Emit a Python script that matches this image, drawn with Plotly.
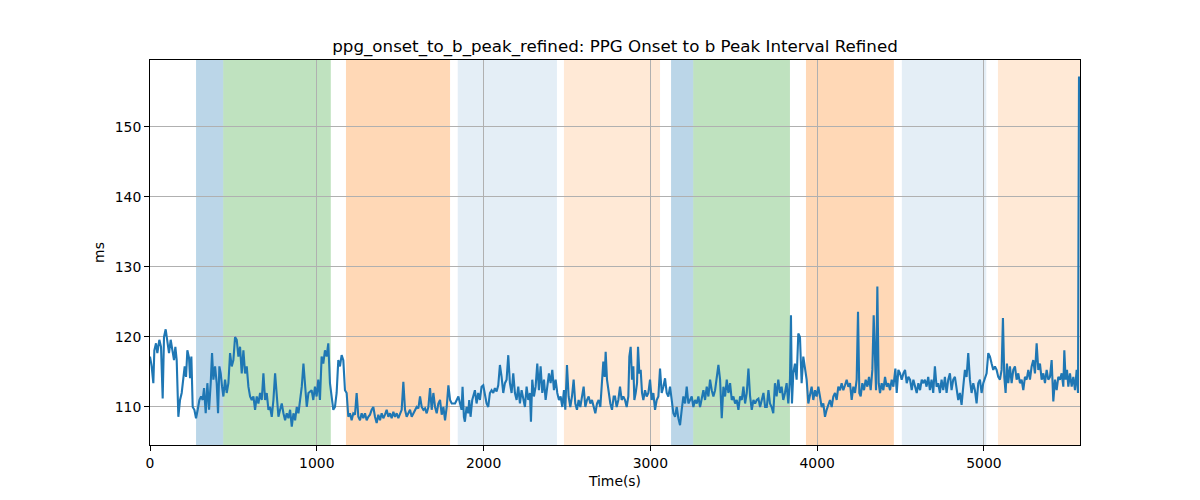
import plotly.graph_objects as go

time_s = [
    0, 10, 20, 26, 36, 44, 56, 66, 76, 84, 94, 104, 114, 124, 132, 144, 152, 160, 170, 180,
    190, 200, 208, 216, 224, 234, 240, 248, 256, 266, 276, 286, 296, 306, 316, 324, 334, 344, 354, 364,
    372, 380, 390, 400, 408, 416, 424, 432, 440, 450, 460, 470, 480, 490, 500, 510, 520, 530, 540, 550,
    560, 570, 580, 590, 600, 610, 620, 630, 640, 650, 660, 670, 680, 690, 700, 710, 720, 730, 740, 750,
    760, 770, 780, 790, 800, 810, 820, 830, 840, 850, 860, 870, 880, 890, 900, 910, 920, 930, 940, 950,
    969, 979, 989, 999, 1009, 1019, 1029, 1039, 1049, 1059, 1069, 1079, 1089, 1099, 1109, 1119, 1129, 1139, 1149, 1159,
    1169, 1179, 1189, 1199, 1209, 1219, 1229, 1239, 1249, 1259, 1269, 1279, 1289, 1299, 1309, 1319, 1329, 1339, 1349, 1359,
    1369, 1379, 1389, 1399, 1409, 1419, 1429, 1439, 1449, 1459, 1469, 1479, 1489, 1499, 1509, 1519, 1529, 1539, 1549, 1559,
    1569, 1579, 1589, 1599, 1609, 1619, 1629, 1639, 1649, 1659, 1669, 1679, 1689, 1699, 1709, 1719, 1729, 1739, 1749, 1759,
    1769, 1779, 1789, 1799, 1809, 1819, 1829, 1839, 1849,
    1868, 1874, 1882, 1888, 1898, 1908, 1914, 1922, 1932, 1938, 1948, 1958, 1968, 1978, 1988, 1998, 2008, 2018, 2028, 2038,
    2048, 2058, 2068, 2078, 2088, 2098, 2108, 2118, 2128, 2138, 2148, 2158, 2168, 2178, 2188, 2198, 2208, 2218, 2228, 2238,
    2248, 2258, 2268, 2278, 2284, 2292, 2302, 2312, 2322, 2332, 2342, 2352, 2362, 2372, 2382, 2392, 2402, 2412, 2422, 2432,
    2442, 2452, 2462, 2472, 2482, 2490, 2500, 2510, 2520, 2530, 2540, 2550, 2560, 2570, 2580, 2590, 2600, 2610, 2620, 2630,
    2640, 2650, 2660, 2670, 2680, 2690, 2700, 2710, 2718, 2726, 2732, 2740, 2750, 2760, 2770, 2780,
    2788, 2798, 2808, 2818, 2828, 2838, 2848, 2858, 2868, 2874, 2882, 2890, 2898, 2904, 2912, 2920, 2926, 2934, 2942, 2950,
    2958, 2968, 2978, 2988, 2998, 3008, 3018, 3028, 3038, 3048, 3058, 3068, 3078, 3088, 3098, 3108, 3118, 3128, 3138, 3148,
    3158, 3168, 3178, 3188, 3198, 3208, 3218, 3228, 3238, 3248, 3258, 3268, 3278, 3288, 3298, 3308, 3318, 3328, 3338, 3348,
    3358, 3368, 3378, 3388, 3398, 3408, 3418, 3428, 3438, 3448, 3458, 3468, 3478, 3488, 3498, 3508, 3518, 3528, 3538, 3548,
    3558, 3568, 3578, 3588, 3598, 3608, 3618, 3628, 3638, 3648, 3658, 3668, 3678, 3688, 3698, 3708,
    3717, 3727, 3737, 3747, 3757, 3767, 3777, 3787, 3797, 3807, 3817, 3827, 3837, 3843, 3849, 3857, 3867, 3877, 3887, 3897,
    3907, 3917, 3927, 3937, 3947, 3957, 3967, 3977, 3987, 3997, 4007, 4017, 4027, 4037, 4047, 4057, 4067, 4077, 4087, 4097,
    4107, 4117, 4127, 4137, 4147, 4157, 4167, 4177, 4187, 4197, 4207, 4217, 4227, 4237, 4245, 4253, 4261, 4271, 4281, 4291,
    4301, 4311, 4321, 4331, 4339, 4347, 4353, 4361, 4369, 4377, 4387, 4397, 4407, 4417, 4427, 4437, 4447, 4457, 4469, 4477,
    4487, 4497, 4507, 4517, 4527, 4537, 4547, 4557, 4567, 4577, 4587, 4597, 4607, 4617, 4627, 4637,
    4646, 4656, 4666, 4676, 4686, 4696, 4706, 4716, 4726, 4736, 4746, 4756, 4766, 4776, 4786, 4796, 4806, 4816, 4826, 4836,
    4846, 4856, 4866, 4876, 4886, 4896, 4906, 4916, 4926, 4936, 4946, 4956, 4966, 4976, 4986, 4996, 5006, 5016, 5026, 5036,
    5046, 5056, 5066, 5076, 5086, 5096, 5106, 5114, 5122, 5130, 5138, 5146, 5156, 5166, 5176, 5186, 5196, 5206, 5216, 5226,
    5236, 5246, 5256, 5266, 5276, 5286, 5296, 5306, 5316, 5326, 5336, 5346, 5356, 5366, 5376, 5386, 5396, 5406, 5416, 5426,
    5436, 5446, 5456, 5466, 5476, 5482, 5490, 5498, 5506, 5516, 5526, 5536, 5546, 5556, 5564, 5570,
]

interval_ms = [
    117.2, 115.8, 113.4, 118.1, 119.1, 117.7, 119.6, 118.6, 111.2, 120.0, 121.1, 119.1, 117.7, 119.6, 118.1, 116.7, 118.6, 116.7, 108.6, 111.0,
    112.0, 114.8, 115.8, 114.3, 118.1, 117.0, 114.1, 117.2, 110.0, 109.6, 108.4, 109.6, 111.0, 111.5, 111.0, 112.7, 109.1, 113.4, 109.6, 113.4,
    117.7, 113.9, 115.8, 113.4, 109.1, 115.8, 114.8, 112.9, 111.5, 113.9, 112.0, 113.4, 117.7, 115.8, 116.7, 120.0, 119.6, 117.2, 118.6, 114.8,
    118.1, 114.8, 115.8, 112.9, 111.5, 111.0, 111.5, 109.6, 111.5, 110.5, 112.0, 111.0, 114.8, 111.0, 112.0, 109.6, 110.0, 108.6, 111.0, 114.8,
    111.0, 108.6, 109.6, 110.5, 109.1, 108.1, 109.1, 108.4, 109.6, 107.2, 109.1, 108.1, 110.0, 109.1, 111.0, 112.9, 116.2, 113.4, 110.0, 112.0,
    112.4, 111.0, 112.9, 111.5, 113.9, 111.0, 117.2, 116.2, 118.1, 117.2, 119.1, 113.4, 111.5, 109.6, 110.0, 112.0, 116.7, 115.8, 117.4, 116.7,
    112.4, 112.0, 108.6, 109.1, 108.1, 109.1, 108.9, 112.0, 108.6, 108.1, 109.1, 108.4, 109.1, 108.1, 108.6, 108.9, 109.6, 110.0, 108.6, 107.7,
    108.9, 108.1, 109.1, 108.4, 108.9, 109.6, 108.6, 109.1, 108.4, 109.3, 108.6, 109.1, 108.4, 108.9, 109.6, 113.6, 109.6, 108.6, 109.1, 109.6,
    108.6, 109.1, 109.6, 110.0, 109.8, 111.5, 110.0, 109.6, 109.8, 109.1, 110.0, 112.7, 109.6, 112.0, 110.0, 109.1, 110.5, 111.0, 108.9, 110.0,
    108.1, 110.0, 113.1, 111.0, 110.5, 110.5, 110.5, 111.0, 111.5,
    109.6, 112.9, 108.6, 107.9, 110.0, 109.1, 111.0, 108.6, 111.0, 111.5, 112.4, 110.5, 112.0, 111.0, 112.9, 113.1, 111.5, 110.5, 110.0, 112.0,
    112.4, 112.0, 112.7, 112.2, 113.1, 116.0, 114.3, 112.0, 113.4, 113.9, 117.4, 113.4, 112.0, 114.8, 112.0, 111.0, 112.9, 110.5, 112.4, 111.0,
    110.0, 112.9, 111.0, 112.0, 107.9, 113.9, 111.5, 112.9, 116.2, 112.4, 115.8, 112.0, 113.9, 111.0, 113.4, 114.8, 113.4, 115.3, 112.4, 113.9,
    112.0, 111.0, 111.5, 110.0, 112.4, 109.6, 116.0, 111.5, 110.0, 111.5, 113.9, 110.5, 109.6, 111.0, 110.0, 111.5, 112.9, 110.0, 111.0, 111.5,
    110.5, 111.0, 110.0, 109.1, 110.5, 111.0, 110.0, 112.9, 116.5, 114.3, 117.9, 113.9, 112.0, 110.5, 109.6, 111.5,
    111.5, 110.0, 111.0, 112.9, 111.0, 111.5, 111.0, 110.0, 111.5, 117.2, 118.6, 113.9, 115.8, 111.0, 112.0, 113.4, 118.6, 114.8, 115.3, 112.0,
    111.0, 112.4, 111.5, 112.0, 113.9, 111.0, 112.0, 109.6, 111.0, 111.5, 115.5, 112.0, 112.9, 114.1, 112.0, 111.5, 112.9, 111.0, 109.1, 108.6,
    110.0, 108.4, 107.4, 109.6, 111.5, 110.5, 112.9, 110.5, 111.0, 111.5, 110.0, 111.0, 110.5, 111.5, 110.0, 111.5, 112.4, 111.0, 112.9, 111.5,
    113.9, 112.4, 111.5, 112.4, 114.3, 116.0, 113.9, 108.4, 112.9, 111.5, 113.9, 112.0, 113.4, 111.0, 111.5, 110.5, 111.0, 109.6, 111.5, 111.0,
    112.9, 110.5, 112.0, 115.5, 111.5, 109.6, 111.0, 110.5, 111.0, 111.2, 110.0, 111.0, 112.0, 110.0, 110.0, 112.4,
    110.5, 110.0, 109.1, 113.4, 111.5, 113.9, 112.0, 112.9, 111.0, 112.0, 113.4, 110.5, 113.9, 123.1, 110.5, 114.8, 116.2, 113.9, 120.5, 120.0,
    113.4, 117.2, 115.3, 113.9, 110.5, 111.5, 112.9, 111.0, 112.4, 111.5, 112.9, 111.5, 110.0, 110.5, 108.6, 109.6, 110.5, 111.0, 110.0, 111.5,
    112.0, 111.0, 112.9, 112.4, 113.4, 112.4, 113.1, 113.9, 112.9, 113.4, 111.0, 112.9, 112.0, 113.9, 123.6, 112.0, 111.5, 113.4, 112.4, 113.9,
    112.9, 114.3, 112.4, 115.3, 123.1, 114.8, 112.4, 127.2, 113.4, 112.0, 113.4, 112.4, 114.3, 112.9, 113.4, 112.4, 113.9, 112.9, 115.5, 112.0,
    115.3, 114.8, 113.9, 114.8, 115.3, 113.4, 114.3, 113.9, 112.4, 113.9, 112.9, 112.0, 113.4, 112.4, 113.9, 113.4,
    113.9, 112.9, 114.3, 112.4, 113.9, 112.0, 115.8, 112.9, 113.4, 112.0, 113.9, 112.4, 114.3, 112.0, 113.9, 114.8, 112.4, 113.9, 114.3, 112.4,
    111.0, 112.0, 110.3, 112.9, 115.3, 114.3, 117.7, 113.9, 112.0, 113.4, 112.4, 110.5, 113.4, 113.9, 112.0, 113.4, 114.3, 114.8, 117.7, 117.2,
    116.2, 115.3, 115.8, 115.3, 114.3, 113.9, 115.3, 122.7, 114.3, 112.0, 116.2, 113.4, 115.8, 113.4, 115.3, 115.8, 113.9, 114.8, 113.4, 113.9,
    112.4, 114.3, 113.9, 115.3, 113.9, 115.8, 116.7, 114.8, 119.1, 115.3, 116.2, 113.9, 114.8, 113.4, 115.3, 113.9, 114.3, 116.7, 110.8, 113.9,
    112.4, 114.3, 113.9, 114.8, 112.9, 118.1, 113.9, 115.3, 112.9, 114.8, 112.9, 114.3, 112.4, 115.3, 112.0, 157.2,
]

# Shaded condition segments (start, end, color, opacity)
seg_start = [276, 439, 1175, 1845, 2482, 3124, 3257, 3933, 4508, 5084]
seg_end = [439, 1084, 1799, 2440, 3058, 3257, 3837, 4460, 5014, 5576]
seg_color = ["#1f77b4", "#2ca02c", "#ff7f0e", "#1f77b4", "#ff7f0e",
             "#1f77b4", "#2ca02c", "#ff7f0e", "#1f77b4", "#ff7f0e"]
seg_alpha = [0.3, 0.3, 0.3, 0.12, 0.17, 0.3, 0.3, 0.3, 0.12, 0.17]

x_ticks = [0, 1000, 2000, 3000, 4000, 5000]
y_ticks = [110, 120, 130, 140, 150]

FONT = "DejaVu Sans"

fig = go.Figure()

for s, e, c, a in zip(seg_start, seg_end, seg_color, seg_alpha):
    fig.add_vrect(x0=s, x1=e, fillcolor=c, opacity=a, layer="below", line_width=0)

fig.add_trace(go.Scatter(
    x=time_s, y=interval_ms, mode="lines",
    line=dict(color="#1f77b4", width=2.1),
    showlegend=False, hoverinfo="x+y",
))

fig.update_layout(
    width=1200, height=500,
    margin=dict(l=150, r=120, t=60, b=55),
    paper_bgcolor="white", plot_bgcolor="white",
    font=dict(family=FONT, size=13.9, color="black"),
    title=dict(
        text="ppg_onset_to_b_peak_refined: PPG Onset to b Peak Interval Refined",
        x=0.5125, xanchor="center", y=0.908, yanchor="middle",
        font=dict(family=FONT, size=16.7, color="black"),
    ),
)

fig.update_xaxes(
    range=[0, 5576], tickvals=x_ticks, ticktext=[str(v) for v in x_ticks],
    showgrid=True, gridcolor="#b0b0b0", gridwidth=1,
    showline=True, linecolor="black", linewidth=1, mirror=True,
    ticks="outside", ticklen=5, tickcolor="black", zeroline=False,
    title=dict(text="Time(s)", standoff=6, font=dict(family=FONT, size=13.9)),
)
fig.update_yaxes(
    range=[104.57, 159.57], tickvals=y_ticks, ticktext=[str(v) for v in y_ticks],
    showgrid=True, gridcolor="#b0b0b0", gridwidth=1,
    showline=True, linecolor="black", linewidth=1, mirror=True,
    ticks="outside", ticklen=5, tickcolor="black", zeroline=False,
    title=dict(text="ms", standoff=6, font=dict(family=FONT, size=13.9)),
)

fig.write_html("out.html")
